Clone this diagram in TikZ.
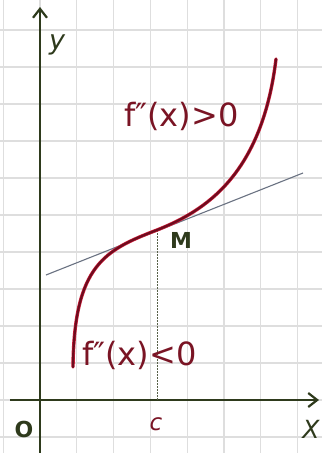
\documentclass[tikz,border=0pt]{standalone}
\usepackage{fontspec}
\setmainfont{DejaVu Sans}
\usetikzlibrary{arrows.meta}
\definecolor{axiscol}{HTML}{2E3A1C}
\definecolor{gridcol}{HTML}{DEDEDE}
\definecolor{curvedark}{HTML}{6E0C1E}
\definecolor{curvered}{HTML}{D0203C}
\definecolor{labelred}{HTML}{7A1424}
\definecolor{tangcol}{HTML}{6A7282}
\tikzset{
  axisline/.style={draw=axiscol, line width=2.8pt, -{Straight Barb[length=9pt,width=14pt,line width=2.2pt]}},
  gridline/.style={draw=gridcol, line width=1.1pt},
  curvebase/.style={draw=curvered, line width=3.4pt, line cap=round},
  curvetop/.style={draw=curvedark, line width=2.2pt, line cap=round},
  tangline/.style={draw=tangcol, line width=1.1pt},
  dropline/.style={draw=axiscol!80, line width=1pt, dash pattern=on 1.5pt off 1.5pt},
  condlabel/.style={font=\fontsize{32}{34}\selectfont, text=labelred, inner sep=0pt, anchor=base west},
  axislabel/.style={text=axiscol, inner sep=0pt}
}
\begin{document}
\begin{tikzpicture}[x=1pt,y=-1pt]
\useasboundingbox (0,0) rectangle (322,453);
\fill[white] (0,0) rectangle (322,453);
% grid
\foreach \k in {-1,...,7} {
  \draw[gridline] ({40+36.8*\k},0) -- ({40+36.8*\k},453);
}
\foreach \k in {-1,...,10} {
  \draw[gridline] (0,{400-37*\k}) -- (322,{400-37*\k});
}
% axes
\coordinate (xstart) at (10,400);
\coordinate (xend) at (319,400);
\coordinate (ystart) at (40,453);
\coordinate (yend) at (40,7);
\draw[axisline] (xstart) -- (xend);
\draw[axisline] (ystart) -- (yend);
% tangent
\coordinate (tA) at (46,275);
\coordinate (tB) at (303,173);
\draw[tangline] (tA) -- (tB);
% point M and drop
\coordinate (M) at (157,230);
\coordinate (C) at (157,400);
\draw[dropline] (M) -- (C);
% curve
\coordinate (cStart) at (73,367);
\coordinate (cEnd) at (276,59);
\draw[curvebase] (cStart) .. controls (74,265) and (105,250) .. (M)
  .. controls (205,211) and (262,175) .. (cEnd);
\draw[curvetop] (cStart) .. controls (74,265) and (105,250) .. (M)
  .. controls (205,211) and (262,175) .. (cEnd);
% labels
\node[condlabel] (gt) at (124,126) {f″(x)>0};
\node[condlabel] (lt) at (82,365) {f″(x)<0};
\node[axislabel, font=\bfseries\fontsize{22}{24}\selectfont] (Ml) at (181,240) {M};
\node[axislabel, font=\itshape\fontsize{27}{29}\selectfont] (yl) at (57,45) {y};
\node[axislabel, font=\bfseries\fontsize{22}{24}\selectfont] (Ol) at (24,429) {O};
\node[axislabel, font=\itshape\fontsize{25}{27}\selectfont] (Xl) at (311,429) {X};
\node[inner sep=0pt, text=labelred, font=\itshape\fontsize{23}{25}\selectfont] (cl) at (156,424) {c};
\end{tikzpicture}
\end{document}
